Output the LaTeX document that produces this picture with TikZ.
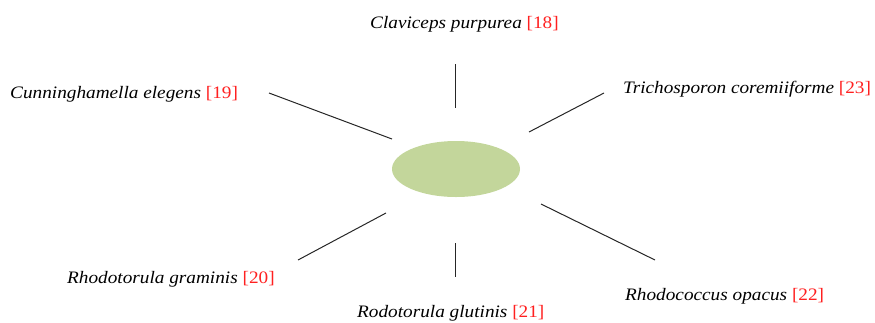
\documentclass[tikz,border=0pt]{standalone}
\usepackage{fontspec}
\setmainfont{Liberation Serif}[FakeStretch=1.1]
\usetikzlibrary{shapes.geometric}
\definecolor{hub}{HTML}{C3D69B}
\definecolor{refred}{HTML}{FF2020}
\begin{document}
\begin{tikzpicture}[x=1pt,y=-1pt,
  spoke/.style={draw=black!85,line width=1pt},
  organism/.style={inner sep=0pt,anchor=base west,font=\fontsize{17.5}{20}\selectfont\itshape}]
  \useasboundingbox (0,0) rectangle (875,322);
  % central body
  \node[ellipse,fill=hub,minimum width=128pt,minimum height=56pt,inner sep=0pt] (hub) at (456,169) {};
  % species labels
  \node[organism] (cp) at (370,28) {Claviceps purpurea {\upshape\color{refred}[18]}};
  \node[organism] (ce) at (10,98) {Cunninghamella elegens {\upshape\color{refred}[19]}};
  \node[organism] (tc) at (623,93) {Trichosporon coremiiforme {\upshape\color{refred}[23]}};
  \node[organism] (rg) at (67,283) {Rhodotorula graminis {\upshape\color{refred}[20]}};
  \node[organism] (rl) at (357,317) {Rodotorula glutinis {\upshape\color{refred}[21]}};
  \node[organism] (ro) at (625,300) {Rhodococcus opacus {\upshape\color{refred}[22]}};
  % spoke end points
  \coordinate (a1) at (455,64);  \coordinate (a2) at (455,108);
  \coordinate (b1) at (269,93);  \coordinate (b2) at (392,139);
  \coordinate (c1) at (604,93);  \coordinate (c2) at (529,132);
  \coordinate (d1) at (386,213); \coordinate (d2) at (298,260);
  \coordinate (e1) at (455,243); \coordinate (e2) at (455,277);
  \coordinate (f1) at (541,204); \coordinate (f2) at (655,260);
  \draw[spoke] (a1) -- (a2);
  \draw[spoke] (b1) -- (b2);
  \draw[spoke] (c1) -- (c2);
  \draw[spoke] (d1) -- (d2);
  \draw[spoke] (e1) -- (e2);
  \draw[spoke] (f1) -- (f2);
\end{tikzpicture}
\end{document}
